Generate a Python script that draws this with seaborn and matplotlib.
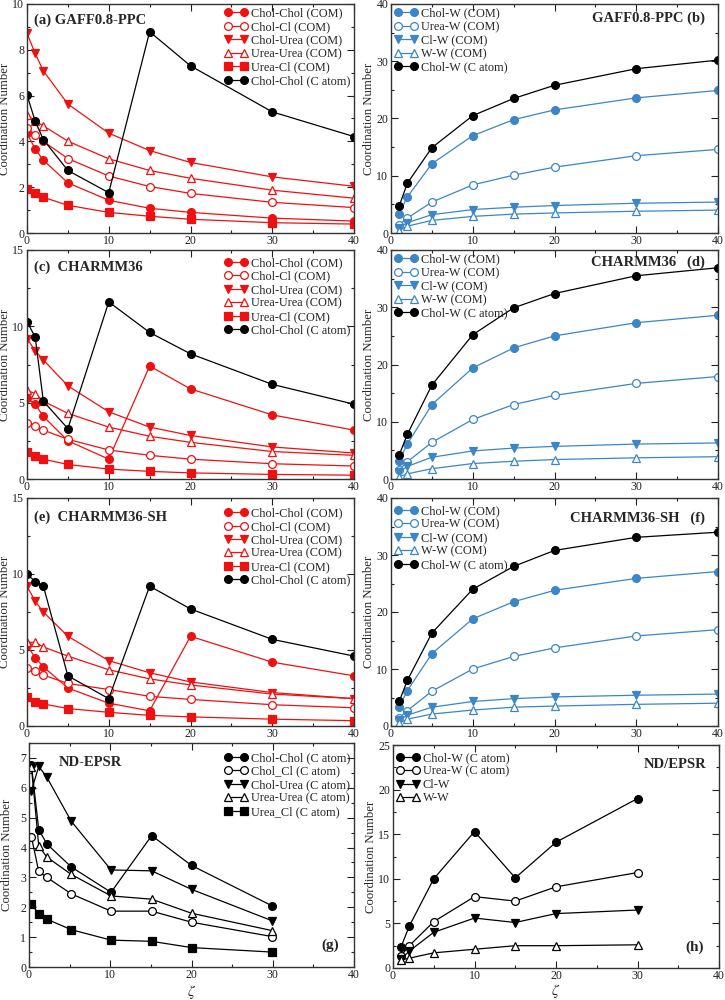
import matplotlib
matplotlib.use("Agg")
import matplotlib.pyplot as plt
import seaborn as sns
import pandas as pd
from matplotlib.ticker import MultipleLocator
from matplotlib.lines import Line2D

sns.set_style("ticks")
plt.rcParams['font.family'] = ['Liberation Serif', 'DejaVu Serif']
plt.rcParams['mathtext.fontset'] = 'stix'

RED = "#f01010"
BLUE = "#3b86c6"
BLACK = "black"

# ---------------- data ----------------
x_com = [0, 1, 2, 5, 10, 15, 20, 30, 40]
x_w = [1, 2, 5, 10, 15, 20, 30, 40]
x_g = [0.3, 1.2, 2.2, 5.2, 10.1, 15.1, 20, 29.9]
x_h = [1, 2, 5, 10, 15, 20, 30]

# (a) GAFF0.8-PPC
a_cholchol = [4.35, 3.67, 3.18, 2.19, 1.43, 1.08, 0.90, 0.65, 0.52]
a_cholcl = [4.59, 4.30, 4.00, 3.25, 2.49, 2.03, 1.73, 1.34, 1.11]
a_cholurea = [8.72, 7.84, 7.08, 5.63, 4.36, 3.60, 3.08, 2.45, 2.04]
a_ureaurea = [5.15, 4.90, 4.68, 4.01, 3.24, 2.73, 2.39, 1.87, 1.52]
a_ureacl = [1.94, 1.75, 1.56, 1.21, 0.90, 0.73, 0.60, 0.45, 0.39]
a_cholchol_c = [6.03, 4.88, 4.08, 2.73, 1.76, 8.79, 7.30, 5.29, 4.21]

# (b) GAFF0.8-PPC water
b_cholw = [3.4, 6.3, 12.1, 17.0, 19.8, 21.5, 23.6, 24.9]
b_ureaw = [1.4, 2.6, 5.4, 8.4, 10.1, 11.5, 13.5, 14.6]
b_clw = [0.9, 1.8, 3.2, 4.1, 4.5, 4.8, 5.2, 5.4]
b_ww = [0.4, 1.2, 2.2, 2.9, 3.3, 3.5, 3.8, 4.0]
b_cholw_c = [4.7, 8.7, 14.9, 20.5, 23.5, 25.8, 28.7, 30.2]

# (c) CHARMM36
c_cholchol = [5.3, 4.9, 4.1, 2.5, 1.3, 7.4, 5.9, 4.2, 3.2]
c_cholcl = [3.7, 3.45, 3.2, 2.6, 1.9, 1.55, 1.3, 1.0, 0.85]
c_cholurea = [9.2, 8.4, 7.8, 6.1, 4.4, 3.4, 2.85, 2.1, 1.7]
c_ureaurea = [5.8, 5.6, 5.1, 4.3, 3.4, 2.8, 2.4, 1.8, 1.55]
c_ureacl = [1.75, 1.5, 1.3, 0.95, 0.65, 0.5, 0.4, 0.3, 0.25]
c_cholchol_c = [10.3, 9.3, 5.1, 3.3, 11.6, 9.6, 8.2, 6.2, 4.9]

# (d) CHARMM36 water
d_cholw = [3.2, 6.1, 13.0, 19.4, 22.9, 25.0, 27.3, 28.6]
d_ureaw = [1.6, 3.0, 6.4, 10.4, 13.0, 14.6, 16.7, 17.9]
d_clw = [1.2, 2.2, 3.8, 4.9, 5.4, 5.7, 6.1, 6.3]
d_ww = [0.4, 0.9, 1.8, 2.7, 3.1, 3.4, 3.7, 3.9]
d_cholw_c = [4.2, 7.8, 16.4, 25.2, 29.9, 32.4, 35.5, 36.9]

# (e) CHARMM36-SH
e_cholchol = [5.3, 4.5, 3.9, 2.5, 1.5, 1.0, 5.9, 4.2, 3.3]
e_cholcl = [3.8, 3.6, 3.35, 2.8, 2.4, 1.95, 1.75, 1.4, 1.2]
e_cholurea = [9.2, 8.2, 7.5, 5.9, 4.3, 3.5, 2.9, 2.2, 1.8]
e_ureaurea = [5.5, 5.5, 5.2, 4.6, 3.7, 3.1, 2.7, 2.1, 1.8]
e_ureacl = [1.9, 1.6, 1.45, 1.15, 0.9, 0.7, 0.6, 0.45, 0.35]
e_cholchol_c = [10.0, 9.5, 9.2, 3.3, 1.8, 9.2, 7.7, 5.7, 4.6]

# (f) CHARMM36-SH water
f_cholw = [3.3, 6.2, 12.7, 18.8, 21.8, 23.8, 25.9, 27.1]
f_ureaw = [1.4, 2.7, 6.1, 10.0, 12.2, 13.7, 15.8, 16.9]
f_clw = [1.0, 1.9, 3.3, 4.3, 4.8, 5.1, 5.4, 5.6]
f_ww = [0.5, 1.2, 2.1, 2.8, 3.3, 3.5, 3.8, 4.0]
f_cholw_c = [4.3, 8.0, 16.3, 24.0, 28.0, 30.8, 33.1, 34.0]

# (g) ND-EPSR
g_cholchol = [6.75, 4.6, 4.12, 3.35, 2.5, 4.4, 3.4, 2.05]
g_cholcl = [4.35, 3.2, 3.0, 2.45, 1.87, 1.87, 1.5, 1.02]
g_cholurea = [5.9, 6.72, 6.35, 4.88, 3.25, 3.22, 2.6, 1.55]
g_ureaurea = [6.7, 4.05, 3.68, 3.1, 2.38, 2.27, 1.8, 1.22]
g_ureacl = [2.1, 1.78, 1.6, 1.25, 0.9, 0.86, 0.65, 0.5]

# (h) ND/EPSR water
h_cholw = [2.4, 4.7, 10.0, 15.3, 10.1, 14.1, 19.0]
h_ureaw = [1.4, 2.5, 5.2, 8.0, 7.5, 9.1, 10.7]
h_clw = [1.0, 1.9, 4.0, 5.6, 5.1, 6.1, 6.5]
h_ww = [0.9, 1.1, 1.7, 2.1, 2.5, 2.5, 2.6]

com_labels = ["Chol-Chol (COM)", "Chol-Cl (COM)", "Chol-Urea (COM)",
              "Urea-Urea (COM)", "Urea-Cl (COM)", "Chol-Chol (C atom)"]
w_labels = ["Chol-W (COM)", "Urea-W (COM)", "Cl-W (COM)", "W-W (COM)", "Chol-W (C atom)"]
g_labels = ["Chol-Chol (C atom)", "Chol_Cl (C atom)", "Chol-Urea (C atom)",
            "Urea-Urea (C atom)", "Urea_Cl (C atom)"]
h_labels = ["Chol-W (C atom)", "Urea-W (C atom)", "Cl-W", "W-W"]

# marker styles: (marker, filled)
com_styles = [("o", True), ("o", False), ("v", True), ("^", False), ("s", True), ("o", True)]
w_styles = [("o", True), ("o", False), ("v", True), ("^", False), ("o", True)]
g_styles = [("o", True), ("o", False), ("v", True), ("^", False), ("s", True)]
h_styles = [("o", True), ("o", False), ("v", True), ("^", False)]

fig = plt.figure(figsize=(7.25, 10), dpi=100)

L0, R0 = 27 / 725, 354 / 725
L1, R1 = 391 / 725, 718 / 725


def box(l, r, top, bot):
    return [l, 1 - bot / 1000, r - l, (bot - top) / 1000]


def draw(ax, x, series, labels, styles, colors, ms=5.6):
    handles = []
    for ys, lab, (mk, filled), col in zip(series, labels, styles, colors):
        df = pd.DataFrame({"x": x[:len(ys)], "y": ys})
        fc = col if filled else "white"
        msz = ms * (0.95 if mk == "s" else 1.0)
        sns.lineplot(data=df, x="x", y="y", ax=ax, sort=False, color=col,
                     lw=0.9, marker=mk, markersize=msz, markerfacecolor=fc,
                     markeredgecolor=col, markeredgewidth=0.9, legend=False)
        handles.append(Line2D([0], [0], color=col, lw=0.9, marker=mk, markersize=msz,
                              markerfacecolor=fc, markeredgecolor=col,
                              markeredgewidth=0.9, label=lab))
    return handles


def style_axes(ax, ymax, ymaj, ymin, xlabel=None):
    ax.set_xlim(0, 40)
    ax.set_ylim(0, ymax)
    ax.xaxis.set_major_locator(MultipleLocator(10))
    ax.xaxis.set_minor_locator(MultipleLocator(5))
    ax.yaxis.set_major_locator(MultipleLocator(ymaj))
    ax.yaxis.set_minor_locator(MultipleLocator(ymin))
    ax.tick_params(which="both", direction="in", top=True, right=True,
                   labelsize=8.6, colors="#222222", labelcolor="#222222", pad=2)
    ax.tick_params(axis="x", pad=1.5)
    ax.tick_params(which="major", length=5, width=0.8)
    ax.tick_params(which="minor", length=2.5, width=0.8)
    for s in ax.spines.values():
        s.set_linewidth(1.0)
        s.set_color("#333333")
    ax.set_ylabel("Coordination Number", fontsize=9.2)
    ax.yaxis.set_label_coords(-0.05, 0.5)
    if xlabel is not None:
        ax.set_xlabel(r"$\zeta$", fontsize=11)
        ax.xaxis.set_label_coords(0.5, xlabel)
    else:
        ax.set_xlabel("")


def legend(ax, handles, loc, bbox):
    ax.legend(handles=handles, loc=loc, bbox_to_anchor=bbox, frameon=False,
              fontsize=8.8, numpoints=2, handlelength=1.85, handletextpad=0.3,
              labelspacing=0.12, borderpad=0.2, borderaxespad=0.1)


TFS = 10.5
red6 = [RED] * 5 + [BLACK]
blue5 = [BLUE] * 4 + [BLACK]
blk = [BLACK] * 5

# (a)
ax = fig.add_axes(box(L0, R0, 4, 233))
h = draw(ax, x_com, [a_cholchol, a_cholcl, a_cholurea, a_ureaurea, a_ureacl, a_cholchol_c],
         com_labels, com_styles, red6)
style_axes(ax, 10, 2, 1)
legend(ax, h, "upper right", (1.0, 1.0))
ax.text(0.02, 0.96, "(a) GAFF0.8-PPC", transform=ax.transAxes, fontsize=TFS,
        fontweight="bold", va="top", ha="left")

# (b)
ax = fig.add_axes(box(L1, R1, 4, 233))
h = draw(ax, x_w, [b_cholw, b_ureaw, b_clw, b_ww, b_cholw_c], w_labels, w_styles, blue5)
style_axes(ax, 40, 10, 5)
legend(ax, h, "upper left", (0.0, 1.0))
ax.text(0.96, 0.965, "GAFF0.8-PPC (b)", transform=ax.transAxes, fontsize=TFS,
        fontweight="bold", va="top", ha="right")

# (c)
ax = fig.add_axes(box(L0, R0, 250, 479))
h = draw(ax, x_com, [c_cholchol, c_cholcl, c_cholurea, c_ureaurea, c_ureacl, c_cholchol_c],
         com_labels, com_styles, red6)
style_axes(ax, 15, 5, 2.5)
legend(ax, h, "upper right", (1.0, 0.985))
ax.text(0.02, 0.955, "(c)  CHARMM36", transform=ax.transAxes, fontsize=TFS,
        fontweight="bold", va="top", ha="left")

# (d)
ax = fig.add_axes(box(L1, R1, 250, 479))
h = draw(ax, x_w, [d_cholw, d_ureaw, d_clw, d_ww, d_cholw_c], w_labels, w_styles, blue5)
style_axes(ax, 40, 10, 5)
legend(ax, h, "upper left", (0.0, 1.0))
ax.text(0.96, 0.978, "CHARMM36   (d)", transform=ax.transAxes, fontsize=TFS,
        fontweight="bold", va="top", ha="right")

# (e)
ax = fig.add_axes(box(L0, R0, 498, 726))
h = draw(ax, x_com, [e_cholchol, e_cholcl, e_cholurea, e_ureaurea, e_ureacl, e_cholchol_c],
         com_labels, com_styles, red6)
style_axes(ax, 15, 5, 2.5)
legend(ax, h, "upper right", (1.0, 0.975))
ax.text(0.02, 0.945, "(e)  CHARMM36-SH", transform=ax.transAxes, fontsize=TFS,
        fontweight="bold", va="top", ha="left")

# (f)
ax = fig.add_axes(box(L1, R1, 498, 726))
h = draw(ax, x_w, [f_cholw, f_ureaw, f_clw, f_ww, f_cholw_c], w_labels, w_styles, blue5)
style_axes(ax, 40, 10, 5)
legend(ax, h, "upper left", (0.0, 0.985))
ax.text(0.96, 0.94, "CHARMM36-SH   (f)", transform=ax.transAxes, fontsize=TFS,
        fontweight="bold", va="top", ha="right")

# (g)
ax = fig.add_axes(box(29 / 725, R0, 743, 967))
h = draw(ax, x_g, [g_cholchol, g_cholcl, g_cholurea, g_ureaurea, g_ureacl],
         g_labels, g_styles, blk)
style_axes(ax, 7.5, 1, 0.5, xlabel=-0.07)
legend(ax, h, "upper right", (1.0, 0.975))
ax.text(0.09, 0.94, "ND-EPSR", transform=ax.transAxes, fontsize=TFS,
        fontweight="bold", va="top", ha="left")
ax.text(0.955, 0.065, "(g)", transform=ax.transAxes, fontsize=TFS + 0.5,
        fontweight="bold", va="bottom", ha="right")

# (h)
ax = fig.add_axes(box(393 / 725, 719 / 725, 745, 968))
h = draw(ax, x_h, [h_cholw, h_ureaw, h_clw, h_ww], h_labels, h_styles, [BLACK] * 4)
style_axes(ax, 25, 5, 2.5, xlabel=-0.065)
legend(ax, h, "upper left", (0.0, 0.985))
ax.text(0.96, 0.94, "ND/EPSR", transform=ax.transAxes, fontsize=TFS,
        fontweight="bold", va="top", ha="right")
ax.text(0.955, 0.065, "(h)", transform=ax.transAxes, fontsize=TFS + 0.5,
        fontweight="bold", va="bottom", ha="right")

fig.savefig("out.png", dpi=100)
